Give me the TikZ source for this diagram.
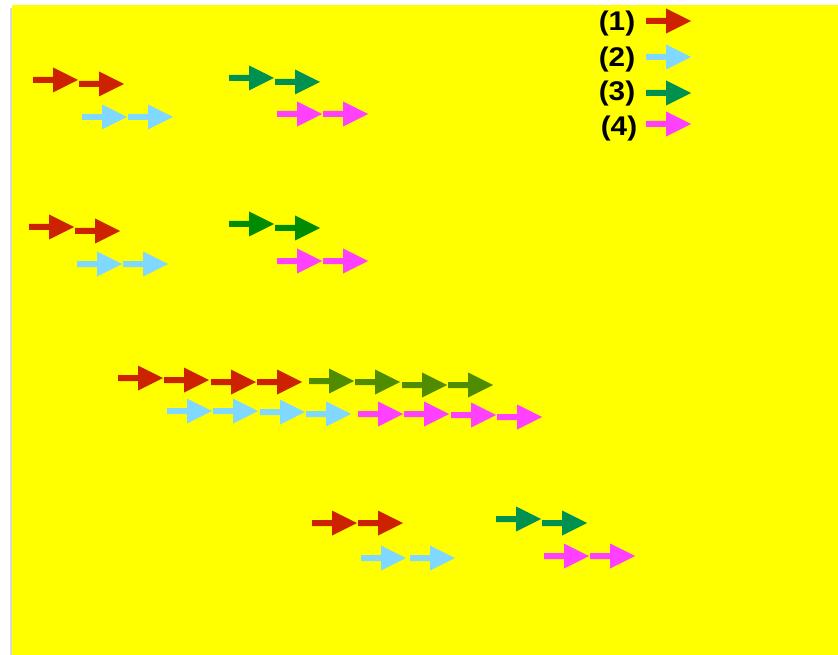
\documentclass[tikz,border=0pt]{standalone}
\usepackage{fontspec}
\setmainfont{Liberation Sans}
\definecolor{cred}{RGB}{204,34,0}
\definecolor{ccyan}{RGB}{128,216,255}
\definecolor{cteal}{RGB}{0,144,80}
\definecolor{cgreen}{RGB}{0,140,0}
\definecolor{colive}{RGB}{80,140,0}
\definecolor{cmag}{RGB}{255,64,255}
\definecolor{cyel}{RGB}{255,255,0}
\tikzset{
  arr/.pic={\fill[pic actions] (0,-3)--(20,-3)--(20,-12.5)--(45,0)--(20,12.5)--(20,3)--(0,3)--cycle;},
  lbl/.style={font=\bfseries\fontsize{27}{27}\selectfont, inner sep=0pt, xscale=1.1}
}
\begin{document}
\begin{tikzpicture}[x=1pt,y=-1pt]
\useasboundingbox (0,0) rectangle (838,655);
\fill[white] (0,0) rectangle (838,655);
\fill[black!15] (9.5,8) rectangle (12,655);
\fill[cyel] (12,5) rectangle (838,655);
% group A
\pic[fill=cred] at (33,80) {arr};
\pic[fill=cred] at (79,84) {arr};
\pic[fill=ccyan] at (82,117) {arr};
\pic[fill=ccyan] at (128,117) {arr};
% group B
\pic[fill=cteal] at (229,78) {arr};
\pic[fill=cteal] at (275,82) {arr};
\pic[fill=cmag] at (277,114) {arr};
\pic[fill=cmag] at (323,114) {arr};
% group C
\pic[fill=cred] at (29,227) {arr};
\pic[fill=cred] at (75,231) {arr};
\pic[fill=ccyan] at (77,264) {arr};
\pic[fill=ccyan] at (123,264) {arr};
% group D
\pic[fill=cgreen] at (229,224) {arr};
\pic[fill=cgreen] at (275,228) {arr};
\pic[fill=cmag] at (277,261) {arr};
\pic[fill=cmag] at (323,261) {arr};
% group E
\pic[fill=cred] at (118,378) {arr};
\pic[fill=cred] at (164,380) {arr};
\pic[fill=cred] at (211,382) {arr};
\pic[fill=cred] at (257,382) {arr};
\pic[fill=colive] at (309,381) {arr};
\pic[fill=colive] at (355,382) {arr};
\pic[fill=colive] at (402,385) {arr};
\pic[fill=colive] at (448,385) {arr};
\pic[fill=ccyan] at (167,411) {arr};
\pic[fill=ccyan] at (213,411) {arr};
\pic[fill=ccyan] at (260,412) {arr};
\pic[fill=ccyan] at (306,414) {arr};
\pic[fill=cmag] at (358,414) {arr};
\pic[fill=cmag] at (404,414) {arr};
\pic[fill=cmag] at (451,415) {arr};
\pic[fill=cmag] at (497,417) {arr};
% group F
\pic[fill=cred] at (312,523) {arr};
\pic[fill=cred] at (358,523) {arr};
\pic[fill=ccyan] at (361,558) {arr};
\pic[fill=ccyan] at (410,558) {arr};
\pic[fill=cteal] at (496,519) {arr};
\pic[fill=cteal] at (542,523) {arr};
\pic[fill=cmag] at (544,556) {arr};
\pic[fill=cmag] at (590,556) {arr};
% legend
\node[lbl] (l1) at (617,24) {(1)};
\node[lbl] (l2) at (617,60) {(2)};
\node[lbl] (l3) at (617,94) {(3)};
\node[lbl] (l4) at (619,129) {(4)};
\pic[fill=cred] at (646,21) {arr};
\pic[fill=ccyan] at (646,57) {arr};
\pic[fill=cteal] at (646,93) {arr};
\pic[fill=cmag] at (646,124) {arr};
\end{tikzpicture}
\end{document}
